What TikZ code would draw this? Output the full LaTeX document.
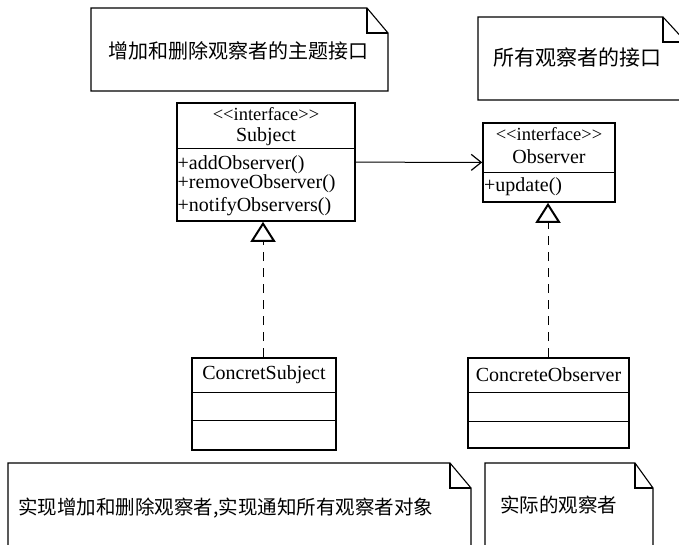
\documentclass[tikz,border=0pt]{standalone}
\usepackage{fontspec}
\setmainfont{Liberation Serif}
\newfontfamily\cjk{Noto Sans CJK SC}
\usetikzlibrary{arrows.meta}

\newcommand\stereotype[1]{<\kern0pt<#1>\kern0pt>}

\begin{document}
\begin{tikzpicture}[x=1pt,y=-1pt,
    classbox/.style={rectangle,draw,line width=1.6pt,inner sep=0pt},
    notebox/.style={line width=1.1pt,line join=miter},
    stereo/.style={inner sep=0pt,font=\fontsize{18.5}{18}\selectfont},
    classname/.style={inner sep=0pt,font=\fontsize{20}{18}\selectfont},
    member/.style={anchor=west,inner sep=0pt,font=\fontsize{20}{19}\selectfont},
    notetext/.style={anchor=west,inner sep=0pt,font=\cjk\fontsize{19.5}{22}\selectfont},
    realizes/.style={line width=1pt,dash pattern=on 9pt off 7pt,
        -{Triangle[open,length=20pt,width=25pt,line width=2pt]}}]
    \useasboundingbox (0,0) rectangle (679,544);
    \clip (0,0) rectangle (679,544);

    % Notes
    \draw[notebox] (91,8) -- (367,8) -- (388,33) -- (388,91) -- (91,91) -- cycle;
    \draw[notebox] (367,8) -- (367,33) -- (388,33);
    \node[notetext,font=\cjk\fontsize{20}{22}\selectfont] (subjectnote) at (108,51) {增加和删除观察者的主题接口};

    \draw[notebox] (478,17) -- (663,17) -- (686,42) -- (686,100) -- (478,100) -- cycle;
    \draw[notebox] (663,17) -- (663,42) -- (686,42);
    \node[notetext,font=\cjk\fontsize{21}{22}\selectfont] (observernote) at (493,57) {所有观察者的接口};

    \draw[notebox] (8,463) -- (450,463) -- (471,488) -- (471,560) -- (8,560) -- cycle;
    \draw[notebox] (450,463) -- (450,488) -- (471,488);
    \node[notetext] (csubjectnote) at (18,508) {实现增加和删除观察者,实现通知所有观察者对象};

    \draw[notebox] (485,463) -- (635,463) -- (653,488) -- (653,560) -- (485,560) -- cycle;
    \draw[notebox] (635,463) -- (635,488) -- (653,488);
    \node[notetext] (cobservernote) at (500,505) {实际的观察者};

    % Subject interface
    \node[classbox,minimum width=178pt,minimum height=118pt] (subject) at (266,162) {};
    \node[stereo] (subjectstereo) at (266,114) {\stereotype{interface}};
    \node[classname] (subjectname) at (266,136.5) {Subject};
    \draw[line width=1pt] (subject.west |- 0,148) -- (subject.east |- 0,148);
    \node[member] (addobs) at (177.5,165) {+addObserver()};
    \node[member] (removeobs) at (177.5,184) {+removeObserver()};
    \node[member] (notifyobs) at (177.5,207) {+notifyObservers()};

    % Observer interface
    \node[classbox,minimum width=132pt,minimum height=79pt] (observer) at (549,162.5) {};
    \node[stereo] (observerstereo) at (549,134) {\stereotype{interface}};
    \node[classname] (observername) at (549,157) {Observer};
    \draw[line width=1pt] (observer.west |- 0,172) -- (observer.east |- 0,172);
    \node[member] (update) at (484,187) {+update()};

    % Concrete classes
    \node[classbox,minimum width=144pt,minimum height=92pt] (csubject) at (264,404) {};
    \node[classname] (csubjectname) at (264,375) {ConcretSubject};
    \draw[line width=1pt] (csubject.west |- 0,392) -- (csubject.east |- 0,392);
    \draw[line width=1pt] (csubject.west |- 0,420) -- (csubject.east |- 0,420);

    \node[classbox,minimum width=161pt,minimum height=90pt] (cobserver) at (548.5,403) {};
    \node[classname] (cobservername) at (548.5,375) {ConcreteObserver};
    \draw[line width=1pt] (cobserver.west |- 0,392) -- (cobserver.east |- 0,392);
    \draw[line width=1pt] (cobserver.west |- 0,421) -- (cobserver.east |- 0,421);

    % Relations
    \draw[line width=1pt,-{Straight Barb[length=10pt,width=16pt,line width=1.2pt]}] (subject) -- (observer);
    \draw[realizes] (csubject.north -| 263,0) -- (subject.south -| 263,0);
    \draw[realizes] (cobserver.north -| 548,0) -- (observer.south -| 548,0);
\end{tikzpicture}
\end{document}
